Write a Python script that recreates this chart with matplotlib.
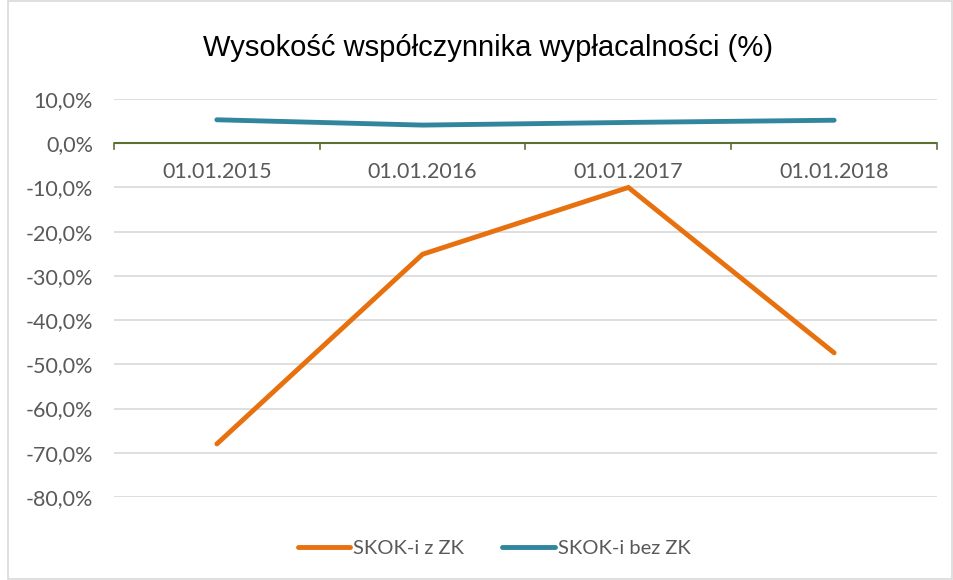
import matplotlib.pyplot as plt
from matplotlib.patches import Rectangle

# data
dates = ["01.01.2015", "01.01.2016", "01.01.2017", "01.01.2018"]
skok_z_zk = [-68.0, -25.1, -10.0, -47.4]
skok_bez_zk = [5.3, 4.1, 4.7, 5.2]
y_ticks = [10, 0, -10, -20, -30, -40, -50, -60, -70, -80]

txt_color = "#595959"
grid_color = "#d9d9d9"
axis_color = "#5b7033"

fig = plt.figure(figsize=(9.54, 5.8), dpi=100)
ax = fig.add_axes([114 / 954, 1 - 497 / 580, (937 - 114) / 954, (497 - 99) / 580])

x = list(range(len(dates)))
ax.plot(x, skok_z_zk, color="#e8710f", lw=3.5, solid_capstyle="round",
        solid_joinstyle="miter", label="SKOK-i z ZK", zorder=3)
ax.plot(x, skok_bez_zk, color="#31859c", lw=3.5, solid_capstyle="round",
        solid_joinstyle="miter", label="SKOK-i bez ZK", zorder=3)

ax.set_xlim(-0.5, len(dates) - 0.5)
ax.set_ylim(-80, 10)

# gridlines
for v in y_ticks:
    if v != 0:
        ax.axhline(v, color=grid_color, lw=1.2, zorder=1)
# category axis at 0
ax.axhline(0, color=axis_color, lw=1.5, zorder=2)
for b in [i - 0.5 for i in range(len(dates) + 1)]:
    ax.plot([b, b], [0, -1.2], color=axis_color, lw=1.2, zorder=2, clip_on=False)

for i, d in enumerate(dates):
    ax.text(i, -6.6, d, ha="center", va="center", fontsize=15.5,
            color=txt_color, family="Lato")

ax.set_yticks(y_ticks)
ax.set_yticklabels([("%.1f%%" % v).replace(".", ",") for v in y_ticks],
                   fontsize=15.5, color=txt_color, family="Lato")
ax.tick_params(axis="y", length=0, pad=15)
ax.set_xticks([])
for s in ax.spines.values():
    s.set_visible(False)

fig.text(488 / 954, 1 - 48 / 580, "Wysokość współczynnika wypłacalności (%)",
         ha="center", va="center", fontsize=21, color="#000000",
         family="Liberation Sans")

leg = fig.legend(loc="center", bbox_to_anchor=(494 / 954, 1 - 548 / 580), ncol=2,
                 frameon=False, fontsize=14.5, handlelength=2.6, handletextpad=0.15,
                 columnspacing=1.9)
for t in leg.get_texts():
    t.set_color(txt_color)
    t.set_family("Lato")

# outer border of the chart area
fig.patches.append(Rectangle((8 / 954, 0.002), 946 / 954 - 0.002, 0.996,
                             transform=fig.transFigure, fill=False,
                             edgecolor="#d9d9d9", lw=1.2))

fig.savefig("out.png", dpi=100)
